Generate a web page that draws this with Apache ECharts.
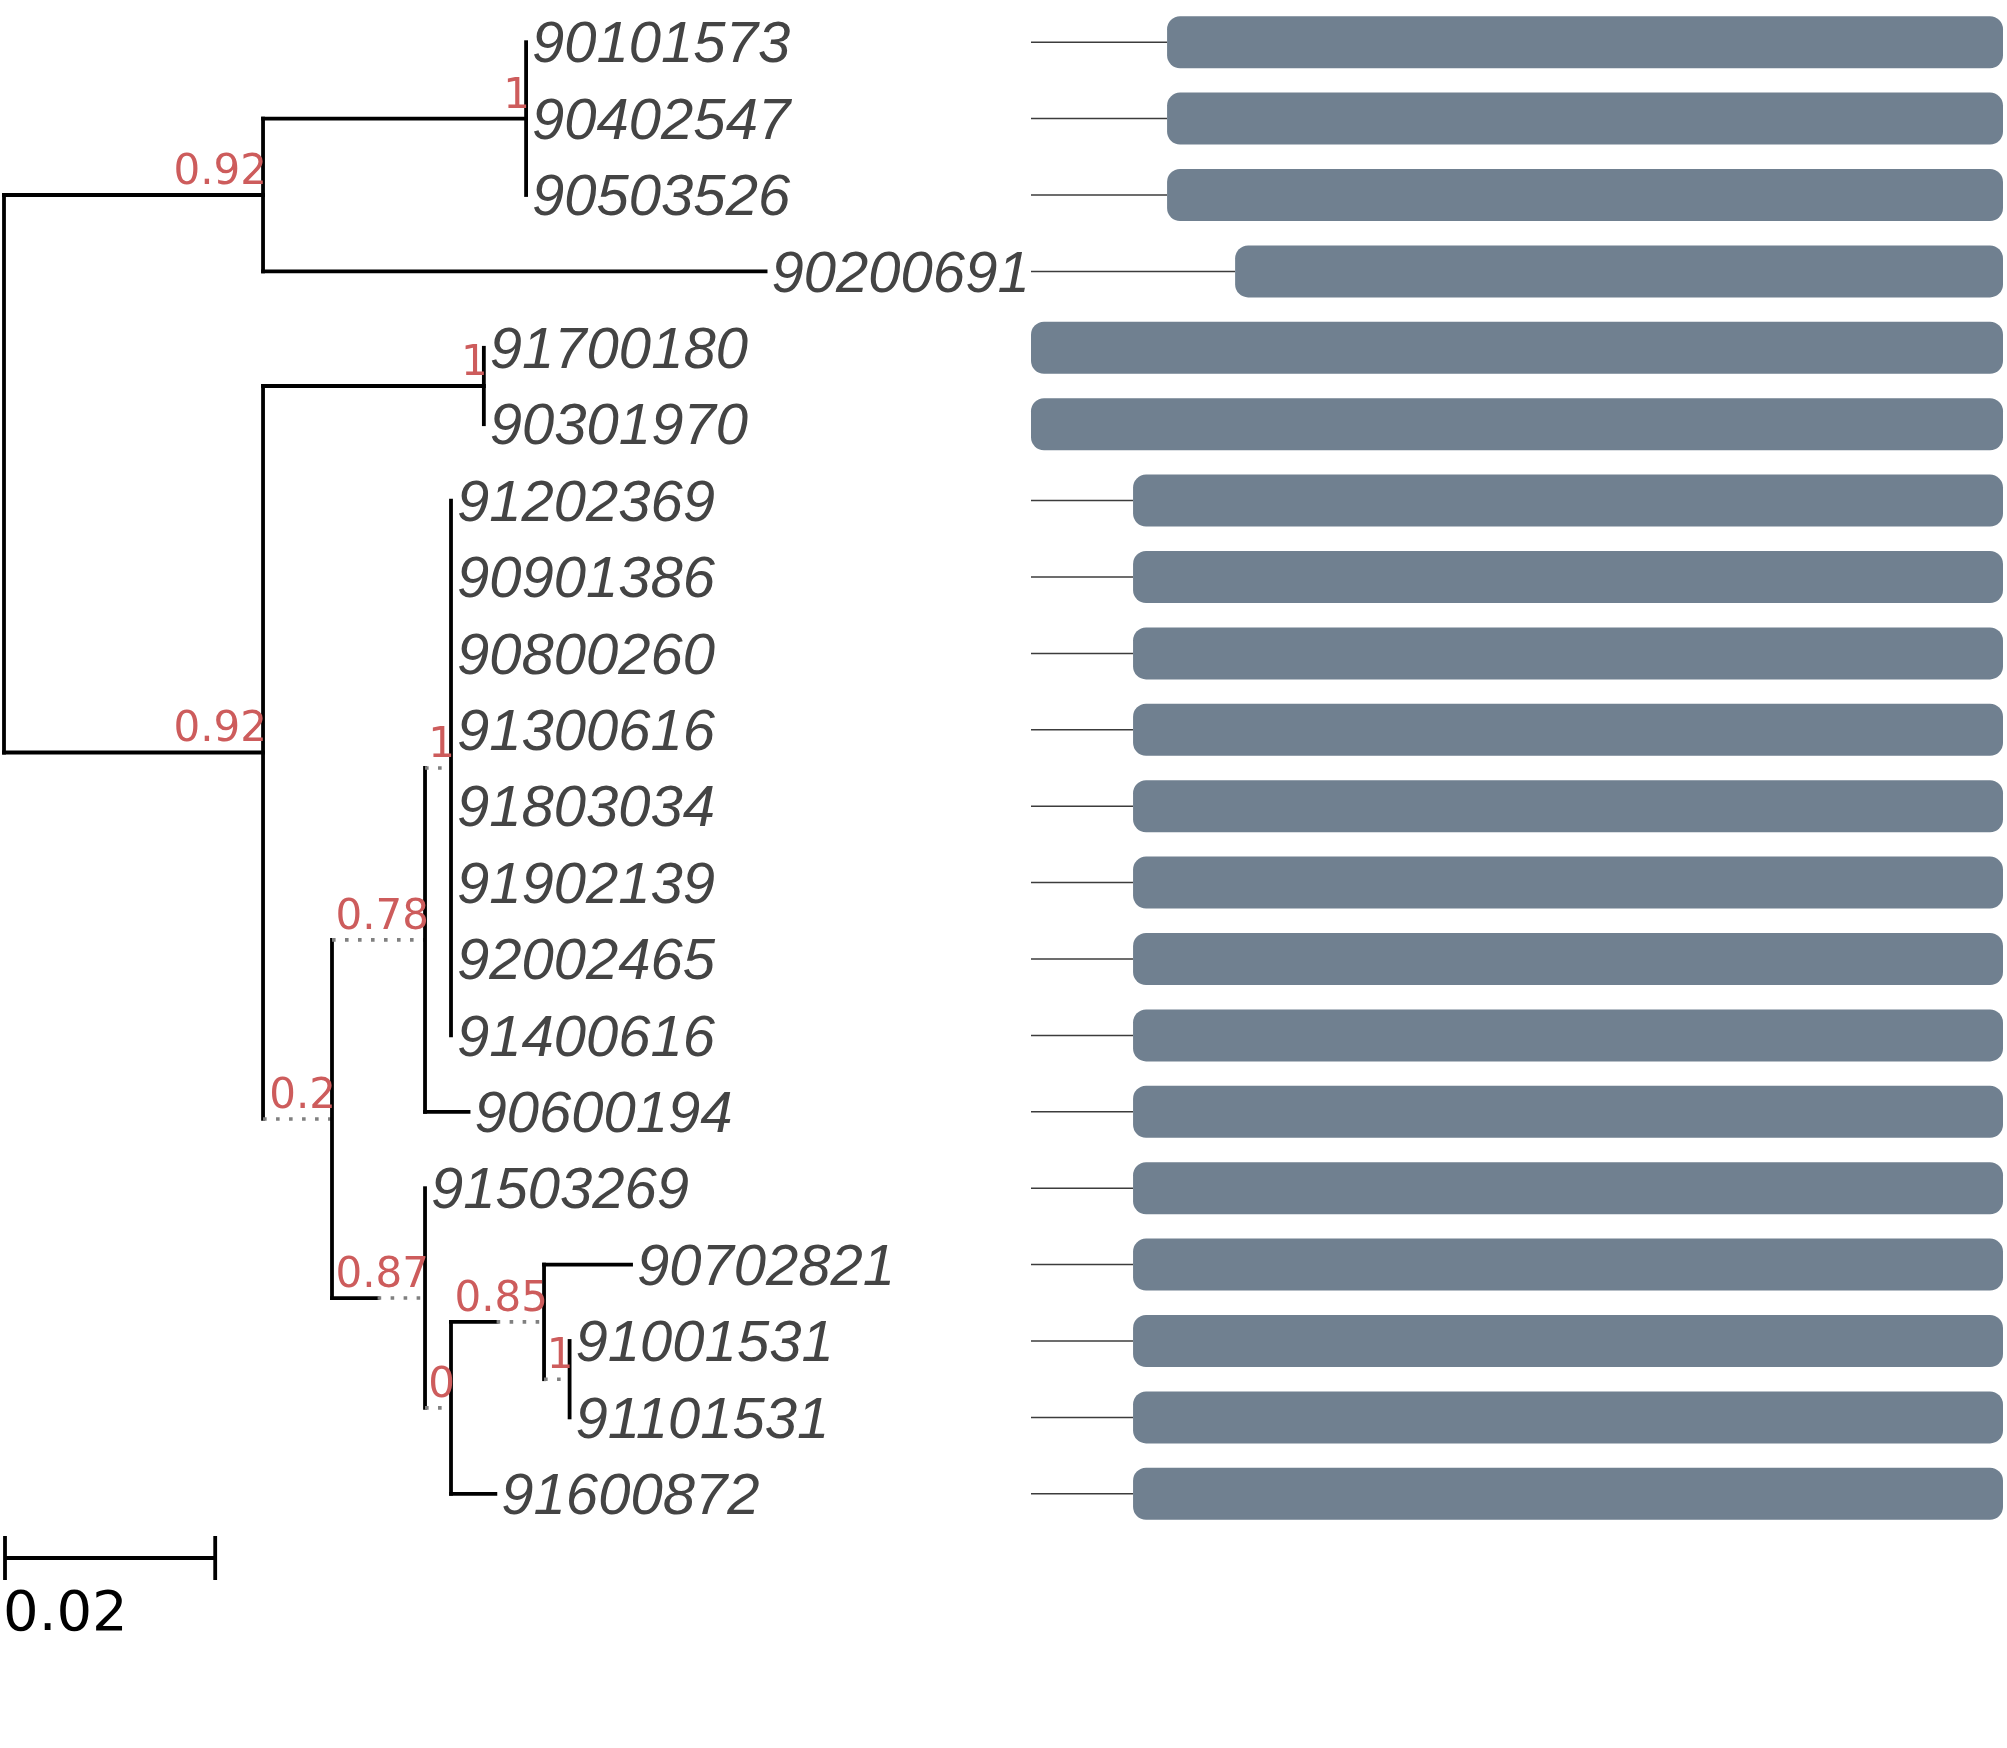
<!DOCTYPE html>
<html>
<head>
<meta charset="utf-8">
<title>Tree with bars</title>
<script src="https://cdn.jsdelivr.net/npm/echarts@6/dist/echarts.min.js"></script>
<style>
  html, body { margin: 0; padding: 0; background: #fff; }
  #chart { width: 2007px; height: 1748px; }
</style>
</head>
<body>
<div id="chart"></div>
<script>
// leaves, top to bottom
const leafNames = [
    '90101573', '90402547', '90503526', '90200691', '91700180', '90301970',
    '91202369', '90901386', '90800260', '91300616', '91803034', '91902139',
    '92002465', '91400616', '90600194', '91503269', '90702821', '91001531',
    '91101531', '91600872'
];
const leafParent = [
    'n2', 'n2', 'n2', 'n1', 'n4', 'n4',
    'n7', 'n7', 'n7', 'n7', 'n7', 'n7', 'n7', 'n7',
    'n6', 'n8', 'n10', 'n11', 'n11', 'n9'
];
const leafDepth = [
    0.04944, 0.04944, 0.04944, 0.07212, 0.04544, 0.04544,
    0.04233, 0.04233, 0.04233, 0.04233, 0.04233, 0.04233, 0.04233, 0.04233,
    0.04399, 0.03987, 0.05938, 0.05356, 0.05356, 0.04653
];

// internal nodes
const nodeIds = ['n0', 'n1', 'n2', 'n3', 'n4', 'n5', 'n6', 'n7', 'n8', 'n9', 'n10', 'n11'];
const nodeParent = [null, 'n0', 'n1', 'n0', 'n3', 'n3', 'n5', 'n6', 'n5', 'n8', 'n9', 'n10'];
const nodeDepth = [0, 0.02453, 0.04944, 0.02453, 0.04544, 0.03106, 0.03987, 0.04233, 0.03987, 0.04233, 0.05114, 0.05356];
// where the solid part of the incoming branch stops (rest is dotted)
const nodeSolidTo = [0, 0.02453, 0.04944, 0.02453, 0.04544, 0.02453, 0.03106, 0.03987, 0.03538, 0.03987, 0.04665, 0.05114];
const nodeSupport = ['', '0.92', '1', '0.92', '1', '0.2', '0.78', '1', '0.87', '0', '0.85', '1'];

// bars (length measured from the right edge)
const barLength = [
    86, 86, 86, 79, 100, 100,
    89.5, 89.5, 89.5, 89.5, 89.5, 89.5, 89.5, 89.5,
    89.5, 89.5, 89.5, 89.5, 89.5, 89.5
];

const scaleBarLength = 0.02;
const scaleBarLabel = '0.02';

// ---- layout of the tree (rows and depths) ----
const depthOf = {};
const parentOf = {};
const children = {};
nodeIds.forEach((id, i) => {
    depthOf[id] = nodeDepth[i];
    parentOf[id] = nodeParent[i];
    children[id] = children[id] || [];
    if (nodeParent[i]) (children[nodeParent[i]] = children[nodeParent[i]] || []).push(id);
});
const rowOf = {};
leafNames.forEach((name, i) => {
    const id = 'leaf' + i;
    depthOf[id] = leafDepth[i];
    parentOf[id] = leafParent[i];
    rowOf[id] = i;
    (children[leafParent[i]] = children[leafParent[i]] || []).push(id);
});
const spanOf = {};
function place(id) {
    if (rowOf[id] !== undefined && !(children[id] && children[id].length)) {
        spanOf[id] = [rowOf[id], rowOf[id]];
        return rowOf[id];
    }
    const ys = children[id].map(place);
    const lo = Math.min.apply(null, ys), hi = Math.max.apply(null, ys);
    spanOf[id] = [lo, hi];
    rowOf[id] = (lo + hi) / 2;
    return rowOf[id];
}
place('n0');

const solidToOf = {};
nodeIds.forEach((id, i) => { solidToOf[id] = nodeSolidTo[i]; });

const segments = [];
Object.keys(depthOf).forEach(id => {
    const p = parentOf[id];
    const y = rowOf[id];
    const d = depthOf[id];
    if (p) {
        const pd = depthOf[p];
        const s = solidToOf[id] !== undefined ? solidToOf[id] : d;
        if (s > pd) segments.push([pd, y, s, y, 0]);
        if (d > s) segments.push([s, y, d, y, 1]);
    }
    if (children[id] && children[id].length) {
        segments.push([d, spanOf[id][0], d, spanOf[id][1], 0]);
    }
});

const chart = echarts.init(document.getElementById('chart'));

chart.setOption({
    animation: false,
    backgroundColor: '#ffffff',
    grid: [
        { left: 4, top: 4, width: 1026, height: 1528 },
        { left: 1031, top: 4, width: 972, height: 1528 }
    ],
    xAxis: [
        { type: 'value', gridIndex: 0, min: 0, max: 1026 / 10560, show: false },
        { type: 'value', gridIndex: 1, min: 0, max: 100, inverse: true, show: false }
    ],
    yAxis: [
        { type: 'value', gridIndex: 0, min: -0.5, max: 19.5, inverse: true, show: false },
        { type: 'category', gridIndex: 1, data: leafNames, inverse: true, show: false }
    ],
    series: [
        {
            // branches
            type: 'custom',
            xAxisIndex: 0,
            yAxisIndex: 0,
            encode: { x: [0, 2], y: [1, 3] },
            data: segments,
            renderItem: function (params, api) {
                const a = api.coord([api.value(0), api.value(1)]);
                const b = api.coord([api.value(2), api.value(3)]);
                const dotted = api.value(4) === 1;
                return {
                    type: 'line',
                    shape: { x1: a[0], y1: a[1], x2: b[0], y2: b[1] },
                    style: {
                        stroke: dotted ? '#808080' : '#000000',
                        lineWidth: dotted ? 3.6 : 3.8,
                        lineDash: dotted ? [3.6, 9.4] : null,
                        lineCap: dotted ? 'butt' : 'square'
                    }
                };
            }
        },
        {
            // leaf labels
            type: 'custom',
            xAxisIndex: 0,
            yAxisIndex: 0,
            data: leafNames.map((n, i) => [leafDepth[i], i]),
            renderItem: function (params, api) {
                const p = api.coord([api.value(0), api.value(1)]);
                return {
                    type: 'text',
                    x: p[0] + 6,
                    y: p[1] + 4,
                    style: {
                        text: leafNames[params.dataIndex],
                        font: 'italic 58px "Liberation Sans"',
                        fill: '#444444',
                        align: 'left',
                        verticalAlign: 'middle'
                    }
                };
            }
        },
        {
            // support values
            type: 'custom',
            xAxisIndex: 0,
            yAxisIndex: 0,
            data: nodeIds.map((id, i) => [nodeDepth[i], rowOf[id]]),
            renderItem: function (params, api) {
                const txt = nodeSupport[params.dataIndex];
                if (!txt) return null;
                const p = api.coord([api.value(0), api.value(1)]);
                return {
                    type: 'text',
                    x: p[0] + 4,
                    y: p[1] - 22,
                    style: {
                        text: txt,
                        font: '42px "DejaVu Sans"',
                        fill: '#cd5c5c',
                        align: 'right',
                        verticalAlign: 'middle'
                    }
                };
            }
        },
        {
            // scale bar
            type: 'custom',
            xAxisIndex: 0,
            yAxisIndex: 0,
            data: [[0, 19.5, scaleBarLength]],
            renderItem: function (params, api) {
                const a = api.coord([api.value(0), api.value(1)]);
                const b = api.coord([api.value(2), api.value(1)]);
                const y = a[1] + 26;
                const st = { stroke: '#000', lineWidth: 3.8 };
                return {
                    type: 'group',
                    children: [
                        { type: 'line', shape: { x1: a[0] + 1, y1: y, x2: b[0], y2: y }, style: st },
                        { type: 'line', shape: { x1: a[0] + 1, y1: y - 22, x2: a[0] + 1, y2: y + 22 }, style: st },
                        { type: 'line', shape: { x1: b[0], y1: y - 22, x2: b[0], y2: y + 22 }, style: st },
                        {
                            type: 'text', x: a[0] - 1, y: y + 57,
                            style: {
                                text: scaleBarLabel,
                                font: '56px "DejaVu Sans"',
                                fill: '#000',
                                align: 'left',
                                verticalAlign: 'middle'
                            }
                        }
                    ]
                };
            }
        },
        {
            // guide lines to the bars
            type: 'custom',
            xAxisIndex: 1,
            yAxisIndex: 1,
            data: barLength.map((v, i) => [v, i]),
            z: 1,
            renderItem: function (params, api) {
                const v = api.value(0);
                if (v >= 100) return null;
                const a = api.coord([100, api.value(1)]);
                const b = api.coord([v, api.value(1)]);
                return {
                    type: 'line',
                    shape: { x1: a[0], y1: a[1], x2: b[0], y2: b[1] },
                    style: { stroke: '#3c3c3c', lineWidth: 1.5 }
                };
            }
        },
        {
            type: 'bar',
            xAxisIndex: 1,
            yAxisIndex: 1,
            data: barLength,
            barWidth: 52,
            z: 2,
            itemStyle: { color: '#708090', borderRadius: 13 }
        }
    ]
});
</script>
</body>
</html>
